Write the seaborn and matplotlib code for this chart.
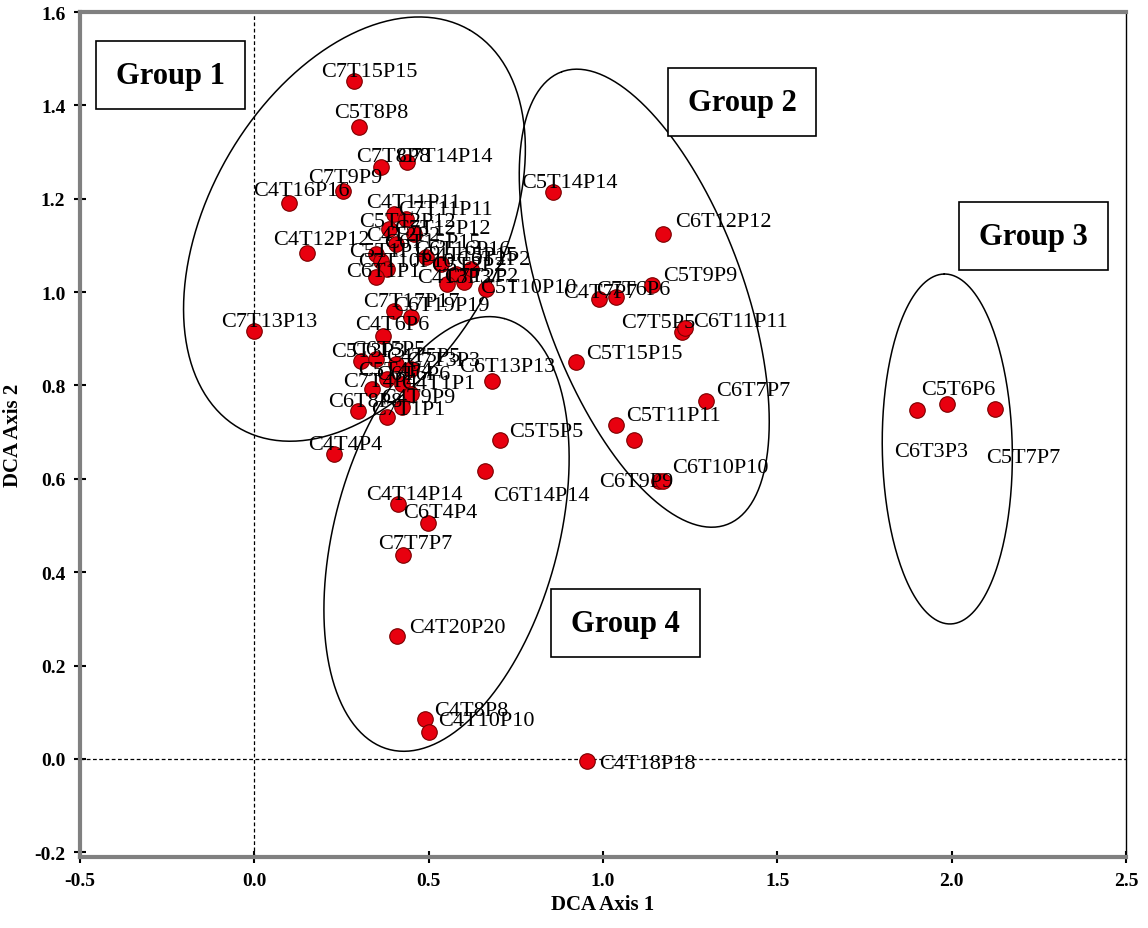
import numpy as np
import pandas as pd
import seaborn as sns
import matplotlib.pyplot as plt

# DCA sample scores
samples = ['C7T15P15', 'C5T8P8', 'C7T8P8', 'C7T14P14', 'C7T9P9', 'C4T16P16', 'C4T12P12',
           'C7T13P13', 'C4T4P4', 'C5T14P14', 'C6T12P12', 'C5T9P9', 'C4T7P7', 'C7T6P6',
           'C7T5P5', 'C6T11P11', 'C5T15P15', 'C6T13P13', 'C6T7P7', 'C5T11P11', '',
           'C6T9P9', 'C6T10P10', 'C5T5P5', 'C6T14P14', 'C4T14P14', 'C6T4P4', 'C7T7P7',
           'C4T20P20', 'C4T8P8', 'C4T10P10', 'C4T18P18', 'C6T3P3', 'C5T6P6', 'C5T7P7',
           # crowded part of group 1
           'C4T11P11', 'C7T11P11', 'C5T12P12', 'C7T12P12', 'C4T2P2', 'C6T15P15', 'C5T1P1',
           'C7T10P10', 'C6T1P1', 'C6T16P16', 'C4T15P15', 'C5T2P2', 'C6T2P2', 'C7T2P2',
           'C4T3P3', 'C5T10P10',
           'C7T17P17', 'C6T19P19', 'C4T6P6', 'C5T3P3', 'C6T5P5', 'C4T5P5', 'C7T3P3',
           'C5T4P4', 'C6T6P6', 'C7T4P4', 'C4T1P1', 'C6T8P8', 'C7T1P1', 'C4T9P9']

axis1 = [0.287, 0.301, 0.364, 0.439, 0.255, 0.100, 0.152,
         0.000, 0.227, 0.857, 1.173, 1.141, 0.989, 1.038,
         1.225, 1.236, 0.921, 0.680, 1.296, 1.038, 1.090,
         1.161, 1.173, 0.703, 0.660, 0.413, 0.499, 0.427,
         0.410, 0.488, 0.502, 0.955, 1.901, 1.985, 2.125,
         0.401, 0.436, 0.387, 0.459, 0.407, 0.350, 0.364,
         0.379, 0.350, 0.493, 0.536, 0.579, 0.622, 0.602,
         0.553, 0.665,
         0.399, 0.450, 0.370, 0.307, 0.350, 0.407, 0.450,
         0.379, 0.422, 0.336, 0.450, 0.298, 0.379, 0.422]

axis2 = [1.452, 1.353, 1.268, 1.278, 1.216, 1.191, 1.084,
         0.916, 0.653, 1.214, 1.124, 1.015, 0.985, 0.989,
         0.914, 0.923, 0.850, 0.809, 0.767, 0.715, 0.683,
         0.595, 0.595, 0.683, 0.617, 0.546, 0.505, 0.437,
         0.263, 0.086, 0.058, -0.004, 0.747, 0.760, 0.749,
         1.167, 1.156, 1.135, 1.124, 1.103, 1.081, 1.066,
         1.049, 1.032, 1.075, 1.060, 1.039, 1.049, 1.021,
         1.017, 1.006,
         0.959, 0.946, 0.906, 0.852, 0.857, 0.846, 0.835,
         0.814, 0.803, 0.792, 0.782, 0.745, 0.732, 0.754]

group_names = ['Group 1', 'Group 2', 'Group 3', 'Group 4']

df = pd.DataFrame({'name': samples, 'ax1': axis1, 'ax2': axis2})

# label offsets in pixels (left edge / vertical centre of text relative to the dot)
offsets = [(-33, 10), (-25, 15), (-25, 11), (-11, 6), (-35, 14), (-36, 12), (-34, 13),
           (-33, 10), (-25, 10), (-32, 10), (12, 13), (11, 10), (-36, 7), (-20, 8),
           (-60, 10), (8, 7), (11, 9), (-32, 15), (10, 10), (10, 10), (0, 0),
           (-60, 0), (9, 14), (10, 9), (9, -25), (-32, 10), (-25, 11), (-25, 11),
           (12, 9), (10, 8), (9, 11), (12, -3), (-23, -41), (-25, 15), (-9, -48),
           (-28, 12), (-8, 10), (-30, 8), (-20, 6), (-30, 9), (8, 12), (-32, 10),
           (-28, 8), (-30, 6), (-12, 8), (-20, 9), (-25, 8), (-15, 10), (-20, 6),
           (-30, 7), (-6, 2),
           (-30, 10), (-18, 12), (-28, 12), (-30, 10), (-25, 9), (-10, 8), (-5, 9),
           (-28, 8), (-25, 10), (-28, 8), (-10, 10), (-30, 10), (-15, 8), (-20, 9)]

# ellipse outlines: centre in data, semi axes in pixels, angle in degrees
ellipses = [(0.287, 1.135, 230, 146, 60), (1.118, 0.987, 241, 100, 110),
            (1.987, 0.664, 175, 65, 91), (0.551, 0.482, 223, 112, 75)]
box_pos = [(-0.241, 1.465), (1.399, 1.407), (2.234, 1.120), (1.064, 0.291)]

sns.set_style('white')
plt.rcParams['font.family'] = ['Liberation Serif', 'DejaVu Serif']
plt.rcParams['text.color'] = 'black'
plt.rcParams['axes.labelcolor'] = 'black'
plt.rcParams['xtick.color'] = 'black'
plt.rcParams['ytick.color'] = 'black'

fig = plt.figure(figsize=(11.48, 9.29), dpi=100)
ax = fig.add_axes([0.0697, 0.0764, 0.9113, 0.9096])

xlim = (-0.5, 2.5)
ylim = (-0.21, 1.6)
ax.set_xlim(xlim)
ax.set_ylim(ylim)

ax.axvline(0, color='black', lw=0.9, ls=(0, (3, 2)), zorder=1)
ax.axhline(0, color='black', lw=0.9, ls=(0, (3, 2)), zorder=1)

sx = 1148 * 0.9113 / (xlim[1] - xlim[0])
sy = 929 * 0.9096 / (ylim[1] - ylim[0])
t = np.linspace(0, 2 * np.pi, 300)
for cx, cy, a, b, ang in ellipses:
    th = np.deg2rad(ang)
    ex = cx + (a * np.cos(t) * np.cos(th) - b * np.sin(t) * np.sin(th)) / sx
    ey = cy + (a * np.cos(t) * np.sin(th) + b * np.sin(t) * np.cos(th)) / sy
    ax.plot(ex, ey, color='black', lw=1.1, zorder=2)

sns.scatterplot(data=df, x='ax1', y='ax2', ax=ax, s=125, color='#e8000f',
                edgecolor='#7a0000', linewidth=0.8, zorder=3, legend=False)

for (name, x, y), (dx, dy) in zip(df[['name', 'ax1', 'ax2']].values, offsets):
    if name:
        ax.annotate(name, (x, y), xytext=(dx, dy), textcoords='offset pixels',
                    ha='left', va='center', fontsize=16, color='black', zorder=4)

for g, (bx, by) in zip(group_names, box_pos):
    ax.text(bx, by, g, fontsize=22, fontweight='bold', ha='center', va='center', zorder=5,
            bbox=dict(boxstyle='square,pad=0.65', fc='white', ec='black', lw=1.2))

ax.set_xticks([-0.5, 0.0, 0.5, 1.0, 1.5, 2.0, 2.5])
ax.set_yticks([-0.2, 0.0, 0.2, 0.4, 0.6, 0.8, 1.0, 1.2, 1.4, 1.6])
ax.set_xticklabels(['-0.5', '0.0', '0.5', '1.0', '1.5', '2.0', '2.5'], fontsize=14, fontweight='bold')
ax.set_yticklabels(['-0.2', '0.0', '0.2', '0.4', '0.6', '0.8', '1.0', '1.2', '1.4', '1.6'],
                   fontsize=14, fontweight='bold')
ax.tick_params(axis='both', direction='inout', length=9, width=1.5, color='black', pad=6,
               bottom=True, left=True)

for side in ['left', 'bottom', 'top']:
    ax.spines[side].set_color('#808080')
    ax.spines[side].set_linewidth(3)
ax.spines['right'].set_color('black')
ax.spines['right'].set_linewidth(1)

ax.set_xlabel('DCA Axis 1', fontsize=15, fontweight='bold', labelpad=4)
ax.set_ylabel('DCA Axis 2', fontsize=15, fontweight='bold', labelpad=8)

plt.savefig('out.png', dpi=100)
